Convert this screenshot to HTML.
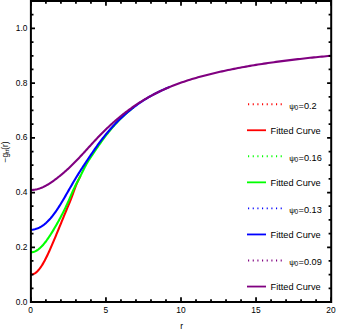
<!DOCTYPE html>
<html><head><meta charset="utf-8"><title>plot</title>
<style>
html,body{margin:0;padding:0;background:#fff;width:337px;height:331px;overflow:hidden}
body{position:relative;font-family:"Liberation Sans",sans-serif}
</style></head><body>
<svg width="337" height="331" viewBox="0 0 337 331" style="display:block;position:absolute;left:0;top:0">
<rect x="0" y="0" width="337" height="331" fill="#fff"/>
<defs><clipPath id="c"><rect x="31" y="1" width="300.2" height="301"/></clipPath></defs>
<g clip-path="url(#c)" fill="none" stroke-width="2.1" stroke-linejoin="round" stroke-linecap="butt">
<path d="M31.00,274.46 L31.75,274.41 L32.50,274.28 L33.25,274.06 L34.00,273.75 L34.75,273.35 L35.50,272.86 L36.25,272.29 L37.00,271.63 L37.75,270.89 L38.50,270.07 L39.25,269.17 L40.00,268.20 L40.75,267.15 L41.50,266.03 L42.25,264.85 L43.00,263.60 L43.75,262.29 L44.50,260.92 L45.25,259.50 L46.00,258.03 L46.75,256.51 L47.50,254.96 L48.25,253.36 L49.00,251.73 L49.75,250.07 L50.50,248.38 L51.25,246.66 L52.00,244.93 L52.75,243.18 L53.50,241.41 L54.25,239.63 L55.00,237.83 L55.75,236.03 L56.50,234.22 L57.25,232.40 L58.00,230.58 L58.75,228.76 L59.50,226.93 L60.25,225.11 L61.00,223.28 L61.75,221.45 L62.50,219.62 L63.25,217.79 L64.00,215.97 L64.75,214.14 L65.50,212.33 L66.25,210.51 L67.00,208.70 L67.75,206.89 L68.50,205.10 L69.25,203.31 L70.00,201.53 L70.75,199.69 L71.50,197.72 L72.25,195.67 L73.00,193.57 L73.75,191.45 L74.50,189.36 L75.25,187.33 L76.00,185.40 L76.75,183.58 L77.50,181.90 L78.25,180.35 L79.00,178.87 L79.75,177.39 L80.50,175.87" stroke="#ff0000"/>
<path d="M31.00,252.30 L31.75,252.24 L32.50,252.13 L33.25,251.96 L34.00,251.74 L34.75,251.45 L35.50,251.11 L36.25,250.72 L37.00,250.28 L37.75,249.78 L38.50,249.23 L39.25,248.63 L40.00,247.99 L40.75,247.30 L41.50,246.56 L42.25,245.78 L43.00,244.96 L43.75,244.09 L44.50,243.19 L45.25,242.25 L46.00,241.27 L46.75,240.25 L47.50,239.21 L48.25,238.13 L49.00,237.02 L49.75,235.89 L50.50,234.72 L51.25,233.54 L52.00,232.33 L52.75,231.10 L53.50,229.85 L54.25,228.58 L55.00,227.30 L55.75,226.00 L56.50,224.68 L57.25,223.36 L58.00,222.01 L58.75,220.66 L59.50,219.28 L60.25,217.89 L61.00,216.49 L61.75,215.07 L62.50,213.62 L63.25,212.16 L64.00,210.66 L64.75,209.15 L65.50,207.60 L66.25,206.02 L67.00,204.40 L67.75,202.75 L68.50,201.07 L69.25,199.37 L70.00,197.64 L70.75,195.91 L71.50,194.18 L72.25,192.48 L73.00,190.80 L73.75,189.17 L74.50,187.58 L75.25,186.05 L76.00,184.55 L76.75,183.10 L77.50,181.69 L78.25,180.30 L79.00,178.87 L79.75,177.39 L80.50,175.87 L81.25,174.34 L82.00,172.80 L82.75,171.27 L83.50,169.75 L84.25,168.26 L85.00,166.80 L85.75,165.39 L86.50,164.02 L87.25,162.71 L88.00,161.47 L88.75,160.29 L89.50,159.16 L90.25,158.03 L91.00,156.90 L91.75,155.77 L92.50,154.63 L93.25,153.50 L94.00,152.37 L94.75,151.25 L95.50,150.13 L96.25,149.01 L97.00,147.91 L97.75,146.81 L98.50,145.72 L99.25,144.64 L100.00,143.57 L100.75,142.52 L101.50,141.47 L102.25,140.44 L103.00,139.42 L103.75,138.41 L104.50,137.41 L105.25,136.42 L106.00,135.45 L106.75,134.48 L107.50,133.53 L108.25,132.59 L109.00,131.66 L109.75,130.74 L110.50,129.83 L111.25,128.94 L112.00,128.05 L112.75,127.18 L113.50,126.32 L114.25,125.47 L115.00,124.64 L115.75,123.81 L116.50,123.00 L117.25,122.19 L118.00,121.40 L118.75,120.62 L119.50,119.85 L120.25,119.09 L121.00,118.35 L121.75,117.61 L122.50,116.88 L123.25,116.17 L124.00,115.47 L124.75,114.77 L125.50,114.09 L126.25,113.42 L127.00,112.76 L127.75,112.11 L128.50,111.46 L129.25,110.83 L130.00,110.21 L130.75,109.60 L131.50,109.00 L132.25,108.41 L133.00,107.83 L133.75,107.25" stroke="#00ff00"/>
<path d="M31.00,229.78 L31.75,229.75 L32.50,229.68 L33.25,229.59 L34.00,229.46 L34.75,229.30 L35.50,229.10 L36.25,228.87 L37.00,228.61 L37.75,228.32 L38.50,227.99 L39.25,227.64 L40.00,227.25 L40.75,226.82 L41.50,226.37 L42.25,225.89 L43.00,225.37 L43.75,224.82 L44.50,224.24 L45.25,223.62 L46.00,222.97 L46.75,222.29 L47.50,221.58 L48.25,220.83 L49.00,220.05 L49.75,219.24 L50.50,218.40 L51.25,217.52 L52.00,216.61 L52.75,215.67 L53.50,214.70 L54.25,213.70 L55.00,212.67 L55.75,211.61 L56.50,210.52 L57.25,209.41 L58.00,208.27 L58.75,207.11 L59.50,205.93 L60.25,204.72 L61.00,203.50 L61.75,202.26 L62.50,201.00 L63.25,199.73 L64.00,198.45 L64.75,197.16 L65.50,195.86 L66.25,194.56 L67.00,193.25 L67.75,191.94 L68.50,190.63 L69.25,189.32 L70.00,188.02 L70.75,186.72 L71.50,185.42 L72.25,184.13 L73.00,182.84 L73.75,181.57 L74.50,180.30 L75.25,179.05 L76.00,177.80 L76.75,176.57 L77.50,175.34 L78.25,174.13 L79.00,172.93 L79.75,171.74 L80.50,170.56 L81.25,169.39 L82.00,168.23 L82.75,167.08 L83.50,165.94 L84.25,164.80 L85.00,163.67 L85.75,162.54 L86.50,161.41 L87.25,160.29 L88.00,159.16 L88.75,158.04 L89.50,156.93 L90.25,155.81 L91.00,154.70 L91.75,153.59 L92.50,152.49 L93.25,151.39 L94.00,150.29 L94.75,149.21 L95.50,148.14 L96.25,147.07 L97.00,146.02 L97.75,144.98 L98.50,143.95 L99.25,142.93 L100.00,141.92 L100.75,140.93 L101.50,139.94 L102.25,138.97 L103.00,138.01 L103.75,137.06 L104.50,136.12 L105.25,135.20 L106.00,134.28 L106.75,133.37 L107.50,132.48 L108.25,131.60 L109.00,130.72 L109.75,129.86 L110.50,129.01 L111.25,128.17 L112.00,127.34 L112.75,126.51 L113.50,125.70 L114.25,124.90 L115.00,124.11 L115.75,123.33 L116.50,122.56 L117.25,121.79 L118.00,121.04 L118.75,120.30 L119.50,119.56 L120.25,118.84 L121.00,118.12 L121.75,117.41 L122.50,116.72 L123.25,116.03 L124.00,115.35 L124.75,114.67 L125.50,114.01 L126.25,113.36 L127.00,112.71 L127.75,112.07 L128.50,111.44 L129.25,110.82 L130.00,110.21 L130.75,109.60 L131.50,109.00 L132.25,108.41 L133.00,107.83 L133.75,107.25 L134.50,106.69 L135.25,106.13 L136.00,105.57 L136.75,105.03 L137.50,104.49 L138.25,103.96 L139.00,103.43 L139.75,102.92 L140.50,102.40 L141.25,101.90 L142.00,101.40 L142.75,100.91 L143.50,100.43 L144.25,99.95 L145.00,99.48 L145.75,99.01 L146.50,98.55 L147.25,98.10 L148.00,97.65 L148.75,97.21 L149.50,96.77 L150.00,96.49 L152.00,95.36 L154.00,94.28 L156.00,93.23 L158.00,92.22 L160.00,91.24 L162.00,90.29 L164.00,89.38 L166.00,88.49 L168.00,87.63 L170.00,86.80" stroke="#0000ff"/>
<path d="M31.00,189.95 L31.75,189.95 L32.50,189.92 L33.25,189.87 L34.00,189.79 L34.75,189.70 L35.50,189.57 L36.25,189.43 L37.00,189.26 L37.75,189.07 L38.50,188.86 L39.25,188.63 L40.00,188.37 L40.75,188.10 L41.50,187.80 L42.25,187.48 L43.00,187.15 L43.75,186.79 L44.50,186.42 L45.25,186.03 L46.00,185.62 L46.75,185.20 L47.50,184.76 L48.25,184.31 L49.00,183.84 L49.75,183.36 L50.50,182.87 L51.25,182.37 L52.00,181.85 L52.75,181.33 L53.50,180.79 L54.25,180.25 L55.00,179.69 L55.75,179.13 L56.50,178.56 L57.25,177.98 L58.00,177.40 L58.75,176.80 L59.50,176.20 L60.25,175.59 L61.00,174.98 L61.75,174.35 L62.50,173.72 L63.25,173.08 L64.00,172.44 L64.75,171.78 L65.50,171.12 L66.25,170.46 L67.00,169.78 L67.75,169.10 L68.50,168.40 L69.25,167.71 L70.00,167.00 L70.75,166.28 L71.50,165.56 L72.25,164.83 L73.00,164.09 L73.75,163.35 L74.50,162.59 L75.25,161.83 L76.00,161.07 L76.75,160.30 L77.50,159.52 L78.25,158.73 L79.00,157.94 L79.75,157.14 L80.50,156.34 L81.25,155.54 L82.00,154.72 L82.75,153.91 L83.50,153.09 L84.25,152.27 L85.00,151.45 L85.75,150.63 L86.50,149.80 L87.25,148.97 L88.00,148.15 L88.75,147.32 L89.50,146.49 L90.25,145.67 L91.00,144.85 L91.75,144.03 L92.50,143.21 L93.25,142.40 L94.00,141.59 L94.75,140.78 L95.50,139.98 L96.25,139.18 L97.00,138.38 L97.75,137.60 L98.50,136.81 L99.25,136.03 L100.00,135.26 L100.75,134.49 L101.50,133.73 L102.25,132.98 L103.00,132.23 L103.75,131.48 L104.50,130.74 L105.25,130.01 L106.00,129.28 L106.75,128.56 L107.50,127.85 L108.25,127.14 L109.00,126.44 L109.75,125.74 L110.50,125.05 L111.25,124.36 L112.00,123.69 L112.75,123.01 L113.50,122.34 L114.25,121.68 L115.00,121.03 L115.75,120.38 L116.50,119.73 L117.25,119.09 L118.00,118.46 L118.75,117.83 L119.50,117.21 L120.25,116.59 L121.00,115.98 L121.75,115.38 L122.50,114.78 L123.25,114.18 L124.00,113.59 L124.75,113.01 L125.50,112.43 L126.25,111.86 L127.00,111.29 L127.75,110.73 L128.50,110.17 L129.25,109.62 L130.00,109.08 L130.75,108.54 L131.50,108.00 L132.25,107.47 L133.00,106.95 L133.75,106.43 L134.50,105.92 L135.25,105.41 L136.00,104.90 L136.75,104.40 L137.50,103.91 L138.25,103.42 L139.00,102.94 L139.75,102.46 L140.50,101.99 L141.25,101.52 L142.00,101.05 L142.75,100.59 L143.50,100.14 L144.25,99.69 L145.00,99.24 L145.75,98.80 L146.50,98.37 L147.25,97.94 L148.00,97.51 L148.75,97.09 L149.50,96.67 L150.00,96.40 L152.00,95.31 L154.00,94.26 L156.00,93.24 L158.00,92.25 L160.00,91.28 L162.00,90.35 L164.00,89.44 L166.00,88.55 L168.00,87.70 L170.00,86.86 L172.00,86.05 L174.00,85.27 L176.00,84.50 L178.00,83.76 L180.00,83.03 L182.00,82.33 L184.00,81.65 L186.00,80.98 L188.00,80.33 L190.00,79.70 L192.00,79.08 L194.00,78.48 L196.00,77.89 L198.00,77.32 L200.00,76.76 L202.00,76.22 L204.00,75.68 L206.00,75.16 L208.00,74.65 L210.00,74.15 L212.00,73.66 L214.00,73.19 L216.00,72.72 L218.00,72.26 L220.00,71.81 L222.00,71.36 L224.00,70.93 L226.00,70.50 L228.00,70.08 L230.00,69.67 L232.00,69.27 L234.00,68.87 L236.00,68.48 L238.00,68.09 L240.00,67.71 L242.00,67.33 L244.00,66.96 L246.00,66.60 L248.00,66.24 L250.00,65.89 L252.00,65.55 L254.00,65.21 L256.00,64.89 L258.00,64.57 L260.00,64.25 L262.00,63.94 L264.00,63.64 L266.00,63.34 L268.00,63.04 L270.00,62.75 L272.00,62.47 L274.00,62.19 L276.00,61.91 L278.00,61.64 L280.00,61.37 L282.00,61.11 L284.00,60.85 L286.00,60.60 L288.00,60.35 L290.00,60.10 L292.00,59.86 L294.00,59.62 L296.00,59.38 L298.00,59.15 L300.00,58.92 L302.00,58.70 L304.00,58.47 L306.00,58.26 L308.00,58.04 L310.00,57.83 L312.00,57.62 L314.00,57.41 L316.00,57.21 L318.00,57.01 L320.00,56.81 L322.00,56.62 L324.00,56.42 L326.00,56.23 L328.00,56.05 L330.00,55.86 L331.00,55.77" stroke="#800080"/>
</g>
<path d="M30.90,302.0 v-4.8 M30.90,1.0 v4.8 M45.91,302.0 v-2.8 M45.91,1.0 v2.8 M60.92,302.0 v-2.8 M60.92,1.0 v2.8 M75.93,302.0 v-2.8 M75.93,1.0 v2.8 M90.94,302.0 v-2.8 M90.94,1.0 v2.8 M105.95,302.0 v-4.8 M105.95,1.0 v4.8 M120.96,302.0 v-2.8 M120.96,1.0 v2.8 M135.97,302.0 v-2.8 M135.97,1.0 v2.8 M150.98,302.0 v-2.8 M150.98,1.0 v2.8 M165.99,302.0 v-2.8 M165.99,1.0 v2.8 M181.00,302.0 v-4.8 M181.00,1.0 v4.8 M196.01,302.0 v-2.8 M196.01,1.0 v2.8 M211.02,302.0 v-2.8 M211.02,1.0 v2.8 M226.03,302.0 v-2.8 M226.03,1.0 v2.8 M241.04,302.0 v-2.8 M241.04,1.0 v2.8 M256.05,302.0 v-4.8 M256.05,1.0 v4.8 M271.06,302.0 v-2.8 M271.06,1.0 v2.8 M286.07,302.0 v-2.8 M286.07,1.0 v2.8 M301.08,302.0 v-2.8 M301.08,1.0 v2.8 M316.09,302.0 v-2.8 M316.09,1.0 v2.8 M331.10,302.0 v-4.8 M331.10,1.0 v4.8 M30.9,302.00 h4.1 M331.2,302.00 h-4.1 M30.9,288.32 h2.6 M331.2,288.32 h-2.6 M30.9,274.64 h2.6 M331.2,274.64 h-2.6 M30.9,260.96 h2.6 M331.2,260.96 h-2.6 M30.9,247.28 h4.1 M331.2,247.28 h-4.1 M30.9,233.60 h2.6 M331.2,233.60 h-2.6 M30.9,219.92 h2.6 M331.2,219.92 h-2.6 M30.9,206.24 h2.6 M331.2,206.24 h-2.6 M30.9,192.56 h4.1 M331.2,192.56 h-4.1 M30.9,178.88 h2.6 M331.2,178.88 h-2.6 M30.9,165.20 h2.6 M331.2,165.20 h-2.6 M30.9,151.52 h2.6 M331.2,151.52 h-2.6 M30.9,137.84 h4.1 M331.2,137.84 h-4.1 M30.9,124.16 h2.6 M331.2,124.16 h-2.6 M30.9,110.48 h2.6 M331.2,110.48 h-2.6 M30.9,96.80 h2.6 M331.2,96.80 h-2.6 M30.9,83.12 h4.1 M331.2,83.12 h-4.1 M30.9,69.44 h2.6 M331.2,69.44 h-2.6 M30.9,55.76 h2.6 M331.2,55.76 h-2.6 M30.9,42.08 h2.6 M331.2,42.08 h-2.6 M30.9,28.40 h4.1 M331.2,28.40 h-4.1 M30.9,14.72 h2.6 M331.2,14.72 h-2.6 M30.9,1.04 h2.6 M331.2,1.04 h-2.6" stroke="#000" stroke-width="1.75" fill="none"/>
<rect x="30.9" y="1.0" width="300.3" height="301.0" fill="none" stroke="#000" stroke-width="2"/>
<path d="M248.05,104.20 H283" stroke="#ff0000" stroke-width="1.9" stroke-dasharray="1.1 3.56" fill="none"/>
<path d="M247,130.25 H266" stroke="#ff0000" stroke-width="1.8" fill="none"/>
<path d="M248.05,156.30 H283" stroke="#00ff00" stroke-width="1.9" stroke-dasharray="1.1 3.56" fill="none"/>
<path d="M247,182.35 H266" stroke="#00ff00" stroke-width="1.8" fill="none"/>
<path d="M248.05,208.40 H283" stroke="#0000ff" stroke-width="1.9" stroke-dasharray="1.1 3.56" fill="none"/>
<path d="M247,234.45 H266" stroke="#0000ff" stroke-width="1.8" fill="none"/>
<path d="M248.05,260.50 H283" stroke="#800080" stroke-width="1.9" stroke-dasharray="1.1 3.56" fill="none"/>
<path d="M247,286.55 H266" stroke="#800080" stroke-width="1.8" fill="none"/>
<g font-family="&quot;Liberation Sans&quot;, sans-serif" font-size="8.4" fill="#000">
<text x="27.5" y="304.5" text-anchor="end">0.0</text>
<text x="27.5" y="249.8" text-anchor="end">0.2</text>
<text x="27.5" y="195.1" text-anchor="end">0.4</text>
<text x="27.5" y="140.3" text-anchor="end">0.6</text>
<text x="27.5" y="85.6" text-anchor="end">0.8</text>
<text x="27.5" y="30.9" text-anchor="end">1.0</text>
<text x="30.5" y="312.6" text-anchor="middle">0</text>
<text x="105.8" y="312.6" text-anchor="middle">5</text>
<text x="181.0" y="312.6" text-anchor="middle">10</text>
<text x="256.0" y="312.6" text-anchor="middle">15</text>
<text x="331.0" y="312.6" text-anchor="middle">20</text>
<text x="181.6" y="328.5" text-anchor="middle">r</text>
<text transform="translate(7.6,162.45) rotate(-90)">−g<tspan font-size="5.6" dy="1.5">tt</tspan><tspan dy="-1.5">(r)</tspan></text>
<text font-size="9.2"><tspan x="289.3" y="108.7" font-size="8">ψ</tspan><tspan x="294.6" y="109.6" font-size="6.6">0</tspan><tspan x="298.6" y="108.7">=0.2</tspan></text>
<text x="270.6" y="133.55" font-size="9.2">Fitted Curve</text>
<text font-size="9.2"><tspan x="289.3" y="160.8" font-size="8">ψ</tspan><tspan x="294.6" y="161.7" font-size="6.6">0</tspan><tspan x="298.6" y="160.8">=0.16</tspan></text>
<text x="270.6" y="185.65" font-size="9.2">Fitted Curve</text>
<text font-size="9.2"><tspan x="289.3" y="212.9" font-size="8">ψ</tspan><tspan x="294.6" y="213.8" font-size="6.6">0</tspan><tspan x="298.6" y="212.9">=0.13</tspan></text>
<text x="270.6" y="237.75" font-size="9.2">Fitted Curve</text>
<text font-size="9.2"><tspan x="289.3" y="265.0" font-size="8">ψ</tspan><tspan x="294.6" y="265.9" font-size="6.6">0</tspan><tspan x="298.6" y="265.0">=0.09</tspan></text>
<text x="270.6" y="289.85" font-size="9.2">Fitted Curve</text>
</g>
</svg>
</body></html>
